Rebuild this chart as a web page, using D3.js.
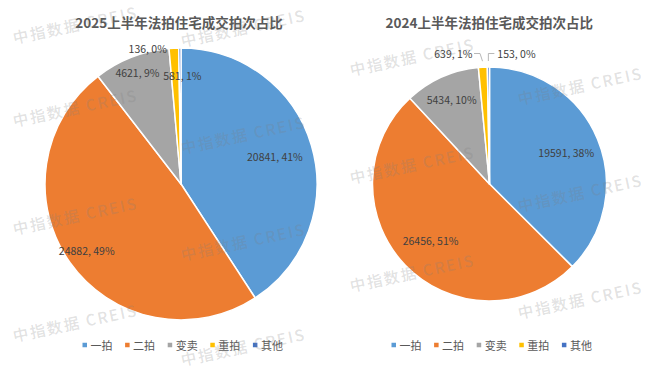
<!DOCTYPE html>
<html><head><meta charset="utf-8">
<script src="https://cdn.jsdelivr.net/npm/d3@7/dist/d3.min.js"></script>
<style>
html,body{margin:0;padding:0;background:#fff;}
svg{display:block;}
</style>
</head><body>
<script>
// ---- data ----
const categories = ["一拍", "二拍", "变卖", "重拍", "其他"];
const values2025 = [20841, 24882, 4621, 581, 136];
const values2024 = [19591, 26456, 5434, 639, 153];
const percent2025 = ["41%", "49%", "9%", "1%", "0%"];
const percent2024 = ["38%", "51%", "10%", "1%", "0%"];
const titles = ["2025上半年法拍住宅成交拍次占比", "2024上半年法拍住宅成交拍次占比"];
const colors = ["#5B9BD5", "#ED7D31", "#A5A5A5", "#FFC000", "#4472C4"];
const watermarkText = "中指数据 CREIS";

// ---- layout (presentation only) ----
const W = 652, H = 369;
const FONT = "'Noto Sans CJK SC','Noto Sans',sans-serif";
const charts = [
  { cx: 181, cy: 184, r: 136, titleX: 179, legendX: 82.5,
    values: values2025, pct: percent2025, title: titles[0],
    labels: [ {k: 0.72}, {k: 0.85}, {k: 0.88}, {k: 0.80, dx: 7}, {k: 1.0, anchor: "end", dx: -13} ] },
  { cx: 489.5, cy: 184, r: 117, titleX: 489.3, legendX: 391.5,
    values: values2024, pct: percent2024, title: titles[1],
    labels: [ {k: 0.71}, {k: 0.70}, {k: 0.79}, {leader: -1}, {leader: 1} ] }
];
const watermarkSpots = [
  [75, 24], [75, 107], [75, 215], [75, 322],
  [243, 27], [243, 134], [243, 241], [243, 346],
  [412, 56], [412, 164], [412, 272],
  [580, 85], [580, 192], [580, 299]
];

const svg = d3.select("body").append("svg")
  .attr("width", W).attr("height", H)
  .attr("font-family", FONT);

svg.append("rect").attr("width", W).attr("height", H).attr("fill", "#fff");

const color = d3.scaleOrdinal().domain(categories).range(colors);

function polar(cx, cy, rad, ang) {
  return [cx + rad * Math.sin(ang), cy - rad * Math.cos(ang)];
}

charts.forEach(c => {
  const g = svg.append("g");
  const data = categories.map((name, i) => ({ name, value: c.values[i], pct: c.pct[i], i }));
  const pie = d3.pie().sort(null).value(d => d.value);
  const arcs = pie(data);
  const arc = d3.arc().innerRadius(0).outerRadius(c.r);

  g.append("text")
    .attr("x", c.titleX).attr("y", 22)
    .attr("text-anchor", "middle").attr("dominant-baseline", "central")
    .attr("font-size", "13.5px").attr("font-weight", "bold")
    .attr("fill", "#595959")
    .text(c.title);

  g.append("g").attr("transform", `translate(${c.cx},${c.cy})`)
    .selectAll("path").data(arcs).join("path")
    .attr("d", arc)
    .attr("fill", d => color(d.data.name))
    .attr("stroke", "#fff").attr("stroke-width", 1.5)
    .attr("stroke-linejoin", "round");

  arcs.forEach((a, i) => {
    const L = c.labels[i];
    const mid = (a.startAngle + a.endAngle) / 2;
    const txt = `${a.data.value}, ${a.data.pct}`;
    if (L.leader) {
      const s = polar(c.cx, c.cy, c.r + 6, mid);
      const ly = c.cy - c.r - 13.5;
      let bend, end, tx, anchor;
      if (L.leader < 0) {
        bend = [s[0] - 2.5, ly];
        end = [bend[0] - 6, ly];
        tx = end[0] - 1.5; anchor = "end";
      } else {
        bend = [s[0], ly];
        end = [bend[0] + 6, ly];
        tx = end[0] + 3; anchor = "start";
      }
      g.append("polyline")
        .attr("points", [s, bend, end].map(p => p.join(",")).join(" "))
        .attr("fill", "none").attr("stroke", "#A6A6A6").attr("stroke-width", 0.8);
      g.append("text")
        .attr("x", tx).attr("y", ly)
        .attr("text-anchor", anchor).attr("dominant-baseline", "central")
        .attr("font-size", "10.5px").attr("fill", "#404040")
        .text(txt);
    } else {
      const p = polar(c.cx, c.cy, c.r * L.k, mid);
      g.append("text")
        .attr("x", p[0] + (L.dx || 0)).attr("y", p[1])
        .attr("text-anchor", L.anchor || "middle").attr("dominant-baseline", "central")
        .attr("font-size", "10.5px").attr("fill", "#404040")
        .text(txt);
    }
  });

  // legend
  const lx = d3.scaleBand().domain(categories).range([c.legendX, c.legendX + 42.6 * categories.length]);
  const lg = g.append("g").selectAll("g").data(categories).join("g")
    .attr("transform", d => `translate(${lx(d)},345)`);
  lg.append("rect").attr("x", 0).attr("y", -2.25).attr("width", 4.5).attr("height", 4.5)
    .attr("fill", d => color(d));
  lg.append("text").attr("x", 8).attr("y", 0)
    .attr("dominant-baseline", "central")
    .attr("font-size", "11px").attr("fill", "#595959")
    .text(d => d);
});

// watermarks
svg.append("g").selectAll("text").data(watermarkSpots).join("text")
  .attr("transform", d => `translate(${d[0]},${d[1]}) rotate(-12)`)
  .attr("text-anchor", "middle").attr("dominant-baseline", "central")
  .attr("font-size", "15.5px").attr("font-weight", "500")
  .attr("letter-spacing", "1.8px")
  .attr("fill", "#7f7f7f").attr("fill-opacity", 0.24)
  .text(watermarkText);
</script>
</body></html>
